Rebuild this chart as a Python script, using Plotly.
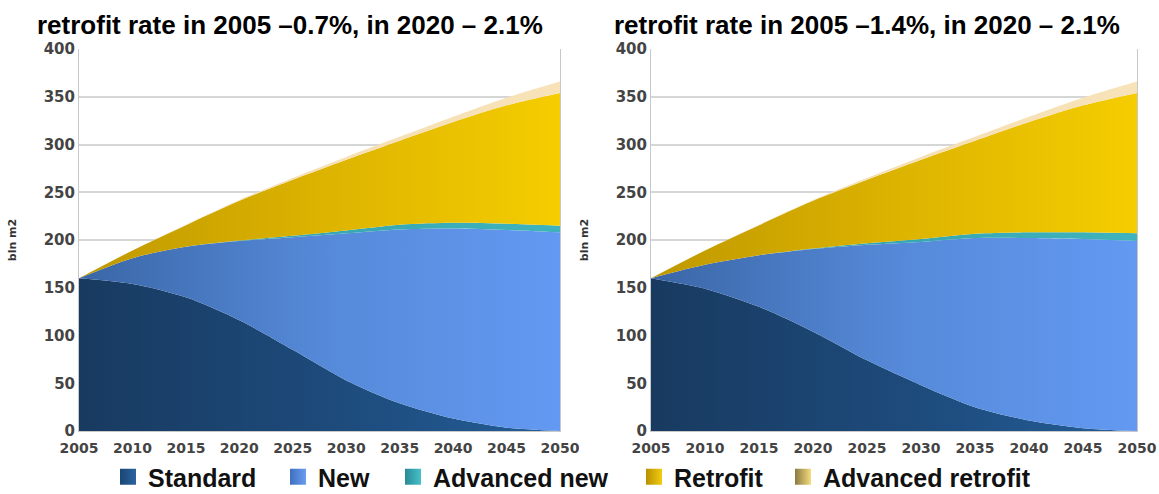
import plotly.graph_objects as go

years = [2005, 2010, 2015, 2020, 2025, 2030, 2035, 2040, 2045, 2050]

# Left panel: retrofit rate 2005 0.7%
standard_L = [160, 154, 140, 116, 85, 53, 29, 13, 3.5, 0]
new_L = [0, 27, 53, 83, 118, 154, 182, 199, 207, 208]
adv_new_L = [0, 0, 0, 0.5, 1.5, 3, 5, 6, 6.5, 7]
retrofit_L = [0, 8, 22.5, 41.5, 58.5, 74, 88, 105.5, 124, 139]
adv_retrofit_L = [0, 0, 0.5, 1, 2, 3, 4, 5.5, 8, 12]

# Right panel: retrofit rate 2005 1.4%
standard_R = [160, 149, 130, 104, 74, 48, 25, 11, 3, 0]
new_R = [0, 25, 54, 86.5, 121, 150, 177, 191, 198, 199]
adv_new_R = [0, 0, 0, 0.5, 1.5, 3, 4.5, 6, 7, 8]
retrofit_R = [0, 15, 31.5, 50, 66.5, 83, 97.5, 115.5, 133, 147]
adv_retrofit_R = [0, 0, 0.5, 1, 2, 3, 4, 5.5, 8, 12]

series_names = ["Standard", "New", "Advanced new", "Retrofit", "Advanced retrofit"]
titles = ["retrofit rate in 2005 \u20130.7%, in 2020 \u2013 2.1%",
          "retrofit rate in 2005 \u20131.4%, in 2020 \u2013 2.1%"]
y_title = "bln m2"

gradients = {
    "Standard": [[0, "#183a60"], [0.6, "#1e4d7f"], [1, "#245e99"]],
    "New": [[0, "#3a66a6"], [0.5, "#5589d8"], [1, "#6399f2"]],
    "Advanced new": [[0, "#2f9aa6"], [1, "#3fb3bd"]],
    "Retrofit": [[0, "#bf9800"], [0.5, "#dcb300"], [1, "#f5cd00"]],
    "Advanced retrofit": [[0, "#f3dcb0"], [1, "#f8e2b8"]],
}
legend_colors = {
    "Standard": ("#1b4674", "#2a63a0"),
    "New": ("#3f6fc0", "#6a9df0"),
    "Advanced new": ("#2a8a96", "#48c0c8"),
    "Retrofit": ("#b89000", "#f2cc10"),
    "Advanced retrofit": ("#8a7a40", "#f4dc80"),
}
# x (px) where each legend entry's text begins in the reference
legend_text_x = [148, 318, 433, 674, 823]

W, H = 1159, 494
fig = go.Figure()
panels = [
    ([standard_L, new_L, adv_new_L, retrofit_L, adv_retrofit_L], "x", "y", "L"),
    ([standard_R, new_R, adv_new_R, retrofit_R, adv_retrofit_R], "x2", "y2", "R"),
]
for data, xa, ya, tag in panels:
    for name, vals in zip(series_names, data):
        fig.add_trace(go.Scatter(
            x=years, y=vals, name=name, xaxis=xa, yaxis=ya,
            stackgroup="s" + tag, mode="lines",
            line=dict(width=0, shape="spline", smoothing=0.8),
            fillgradient=dict(type="horizontal", colorscale=gradients[name]),
            showlegend=False, hoverinfo="x+y+name",
        ))

legend_font = dict(family="Liberation Sans", size=25, color="#111111", weight="bold")
legend_layouts = {}
for i, name in enumerate(series_names):
    c0, c1 = legend_colors[name]
    lg = "legend" if i == 0 else "legend%d" % (i + 1)
    fig.add_trace(go.Scatter(
        x=[None], y=[None], name=name, mode="markers",
        marker=dict(symbol="square", size=17, color=c0,
                    gradient=dict(type="horizontal", color=c1)),
        showlegend=True, xaxis="x", yaxis="y", legend=lg,
    ))
    legend_layouts[lg] = dict(orientation="h", x=(legend_text_x[i] - 40) / W, xanchor="left",
                              y=(H - 477) / H, yanchor="middle", font=legend_font,
                              bgcolor="rgba(0,0,0,0)", borderwidth=0)

common_x = dict(range=[2005, 2050], tickmode="array", tickvals=years,
                ticktext=[str(y) for y in years], showgrid=False,
                showline=True, linecolor="#c8c8c8", ticks="", zeroline=False,
                ticklabelstandoff=4, automargin=False,
                tickfont=dict(family="DejaVu Sans", size=14, color="#444444", weight="bold"),
                fixedrange=True)
common_y = dict(range=[0, 400], tickmode="array", tickvals=list(range(0, 401, 50)),
                showgrid=True, gridcolor="#d6d6d6", gridwidth=1.5,
                showline=True, linecolor="#c8c8c8", mirror=True, ticks="",
                zeroline=False, automargin=False, fixedrange=True,
                tickfont=dict(family="DejaVu Sans", size=15, color="#444444", weight="bold"),
                title=dict(text=y_title, standoff=24,
                           font=dict(family="DejaVu Sans", size=11, color="#333333", weight="bold")))

ybot = (H - 431) / H
ytop = (H - 49) / H
fig.update_layout(
    width=W, height=H,
    margin=dict(l=0, r=0, t=0, b=0, autoexpand=False),
    paper_bgcolor="white", plot_bgcolor="white",
    xaxis=dict(domain=[79 / W, 560 / W], anchor="y", **common_x),
    yaxis=dict(domain=[ybot, ytop], anchor="x", **common_y),
    xaxis2=dict(domain=[651 / W, 1137 / W], anchor="y2", **common_x),
    yaxis2=dict(domain=[ybot, ytop], anchor="x2", **common_y),
    annotations=[
        dict(text=titles[0], x=35 / W, y=(H - 25) / H, xref="paper", yref="paper",
             xanchor="left", yanchor="middle", showarrow=False,
             font=dict(family="Liberation Sans", size=26, color="#000000", weight="bold")),
        dict(text=titles[1], x=612 / W, y=(H - 25) / H, xref="paper", yref="paper",
             xanchor="left", yanchor="middle", showarrow=False,
             font=dict(family="Liberation Sans", size=26, color="#000000", weight="bold")),
    ],
    **legend_layouts,
)

fig.write_html("out.html", config={"displayModeBar": False},
               post_script="document.body.style.margin='0px';")
